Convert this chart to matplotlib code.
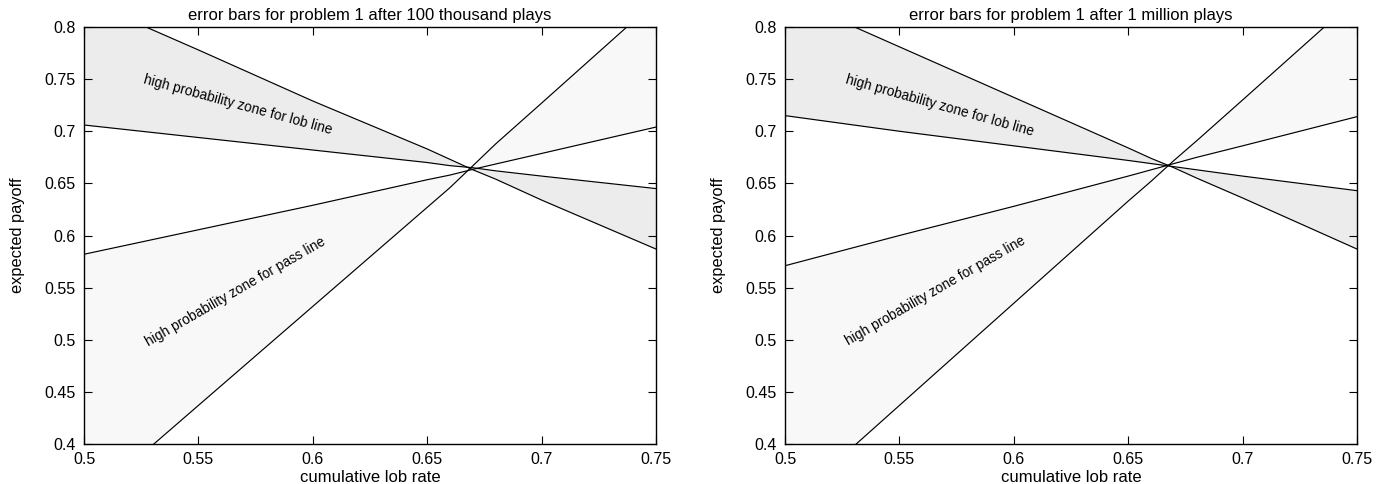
import numpy as np
import matplotlib
matplotlib.use("Agg")
import matplotlib.pyplot as plt

# lob rate sample points shared by all boundary curves
x = [0.5, 0.55, 0.6, 0.65, 0.66, 0.67, 0.68, 0.7, 0.75]

# panel 1: after 100 thousand plays
lob_steep_100k = [0.826, 0.778, 0.729, 0.683, 0.673, 0.663, 0.654, 0.634, 0.587]
lob_flat_100k = [0.706, 0.694, 0.682, 0.670, 0.667, 0.665, 0.662, 0.657, 0.645]
pass_flat_100k = [0.582, 0.6055, 0.629, 0.6535, 0.658, 0.6635, 0.6686, 0.6787, 0.704]
pass_steep_100k = [0.342, 0.437, 0.532, 0.627, 0.646, 0.667, 0.688, 0.727, 0.825]

# panel 2: after 1 million plays
lob_steep_1m = [0.8295, 0.781, 0.7325, 0.684, 0.674, 0.665, 0.655, 0.636, 0.587]
lob_flat_1m = [0.715, 0.700, 0.686, 0.672, 0.669, 0.666, 0.663, 0.657, 0.643]
pass_flat_1m = [0.571, 0.600, 0.628, 0.657, 0.663, 0.669, 0.675, 0.686, 0.714]
pass_steep_1m = [0.339, 0.437, 0.535, 0.633, 0.652, 0.672, 0.691, 0.730, 0.828]

titles = ["error bars for problem 1 after 100 thousand plays",
          "error bars for problem 1 after 1 million plays"]
xticks = [0.5, 0.55, 0.6, 0.65, 0.7, 0.75]
xticklabels = ["0.5", "0.55", "0.6", "0.65", "0.7", "0.75"]
yticks = [0.4, 0.45, 0.5, 0.55, 0.6, 0.65, 0.7, 0.75, 0.8]
yticklabels = ["0.4", "0.45", "0.5", "0.55", "0.6", "0.65", "0.7", "0.75", "0.8"]

plt.rcParams["font.family"] = ["Liberation Sans", "DejaVu Sans"]

fig = plt.figure(figsize=(13.9, 4.84), dpi=100)
ax1 = fig.add_axes([84 / 1390, 40 / 484, 572 / 1390, 417 / 484])
ax2 = fig.add_axes([785 / 1390, 40 / 484, 572 / 1390, 417 / 484])

panels = [
    (ax1, lob_steep_100k, lob_flat_100k, pass_flat_100k, pass_steep_100k,
     (0.5258, 0.7464, -15.2), (0.528, 0.494, 29.9)),
    (ax2, lob_steep_1m, lob_flat_1m, pass_flat_1m, pass_steep_1m,
     (0.526, 0.746, -15.7), (0.5276, 0.495, 29.9)),
]

for i, (ax, la, lb, pc, pd, lob_txt, pass_txt) in enumerate(panels):
    ax.fill_between(x, pc, pd, color="#f8f8f8", lw=0)
    ax.fill_between(x, la, lb, color="#ececec", lw=0)
    for yy in (la, lb, pc, pd):
        ax.plot(x, yy, color="black", lw=0.85)

    ax.text(lob_txt[0], lob_txt[1], "high probability zone for lob line",
            rotation=lob_txt[2], rotation_mode="anchor", ha="left", va="baseline",
            fontsize=9.9)
    ax.text(pass_txt[0], pass_txt[1], "high probability zone for pass line",
            rotation=pass_txt[2], rotation_mode="anchor", ha="left", va="baseline",
            fontsize=9.9)

    ax.set_xlim(0.5, 0.75)
    ax.set_ylim(0.4, 0.8)
    ax.set_xticks(xticks)
    ax.set_xticklabels(xticklabels)
    ax.set_yticks(yticks)
    ax.set_yticklabels(yticklabels)
    ax.tick_params(direction="in", length=6, width=0.8, top=True, right=True,
                   labelsize=11.5, pad=6)
    for sp in ax.spines.values():
        sp.set_linewidth(1.0)

    ax.set_title(titles[i], fontsize=12, pad=5)
    ax.set_xlabel("cumulative lob rate", fontsize=12, labelpad=2)
    ax.set_ylabel("expected payoff", fontsize=11.8, labelpad=14)

fig.savefig("out.png", dpi=100)
